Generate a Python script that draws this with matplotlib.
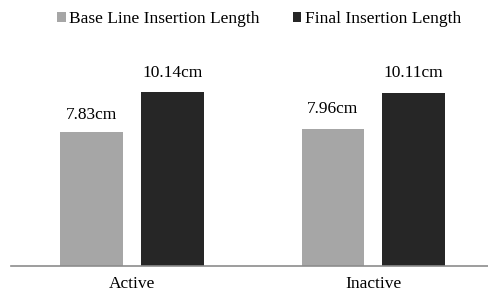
import matplotlib
matplotlib.use("Agg")
import matplotlib.pyplot as plt
import numpy as np

# data
categories = ["Active", "Inactive"]
baseline_len = [7.83, 7.96]
final_len = [10.14, 10.11]
series_names = ["Base Line Insertion Length", "Final Insertion Length"]

plt.rcParams['font.family'] = ['Liberation Serif', 'DejaVu Serif']

fig = plt.figure(figsize=(4.88, 2.93), dpi=100)
ax = fig.add_axes([0.0225, 0.092, 0.99, 0.703])

x = np.arange(len(categories))
w = 0.26
off = 0.167
b1 = ax.bar(x - off, baseline_len, w, color='#A6A6A6', label=series_names[0])
b2 = ax.bar(x + off, final_len, w, color='#262626', label=series_names[1])

# value labels above each bar
label_pad = [[6, 9], [8, 8]]  # points, per series / per category
for si, bars in enumerate([b1, b2]):
    for ci, rect in enumerate(bars):
        h = rect.get_height()
        ax.annotate(f"{h:.2f}cm", (rect.get_x() + rect.get_width() / 2, h),
                    xytext=(0, label_pad[si][ci]), textcoords='offset points',
                    ha='center', va='bottom', fontsize=12.5)

ax.set_xlim(-0.5, 1.5)
ax.set_ylim(0, 12)
ax.set_xticks(x)
ax.set_xticklabels(categories, fontsize=12.5)
ax.tick_params(axis='x', length=0, pad=7.5)
ax.set_yticks([])
for s in ['top', 'right', 'left']:
    ax.spines[s].set_visible(False)
ax.spines['bottom'].set_color('#8C8C8C')
ax.spines['bottom'].set_linewidth(1.2)

fig.legend(loc='upper left', bbox_to_anchor=(0.085, 1.015), ncol=2, frameon=False,
           fontsize=12.5, handlelength=0.5, handleheight=0.5, handletextpad=0.2,
           columnspacing=1.9)

fig.savefig("out.png", dpi=100, facecolor='white')
